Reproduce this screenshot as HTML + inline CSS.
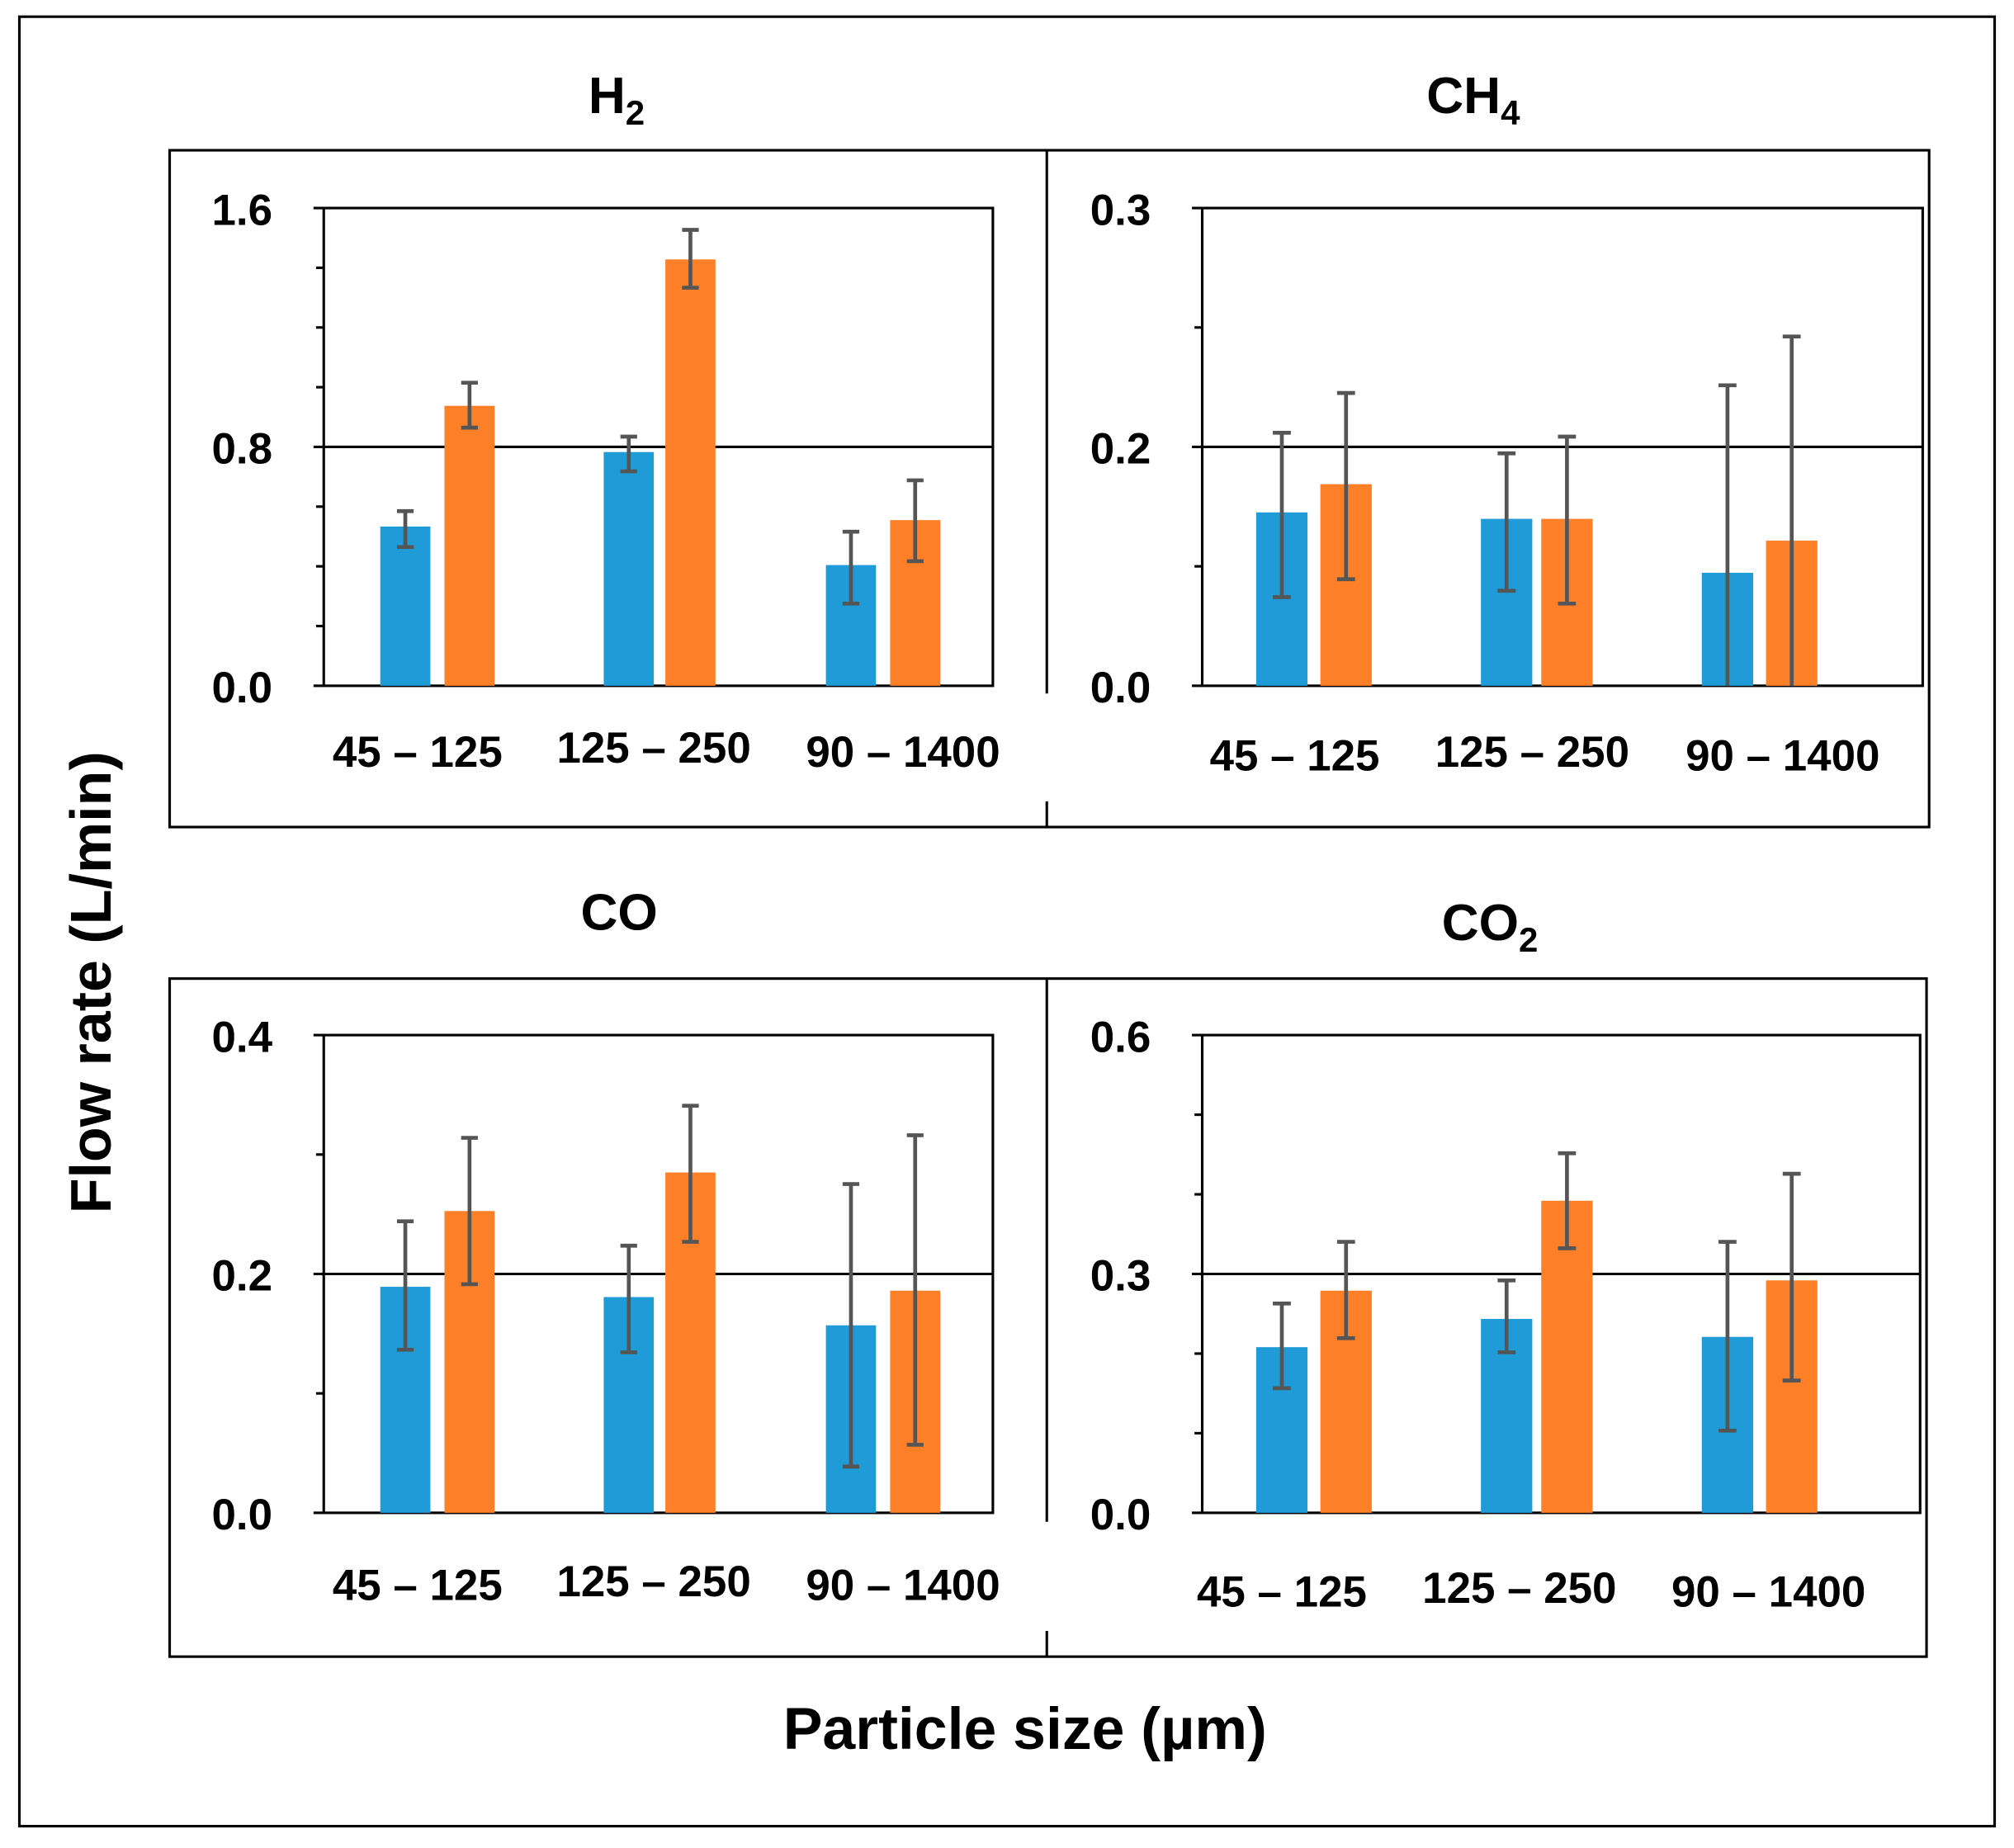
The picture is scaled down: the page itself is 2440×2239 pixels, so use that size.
<!DOCTYPE html>
<html><head><meta charset="utf-8"><style>
html,body{margin:0;padding:0;background:#fff}
svg{display:block}
text{font-family:"Liberation Sans",sans-serif;font-weight:bold;fill:#000}
</style></head><body>
<svg width="2440" height="2239" viewBox="0 0 1568 1439" xmlns="http://www.w3.org/2000/svg">
<rect x="0" y="0" width="1568" height="1439" fill="#fff"/>
<rect x="15" y="13" width="1538" height="1409" fill="none" stroke="#000" stroke-width="2"/>
<rect x="132" y="117" width="1370" height="527" fill="none" stroke="#000" stroke-width="2"/>
<rect x="132" y="762" width="1368" height="528" fill="none" stroke="#000" stroke-width="2"/>
<line x1="815" y1="117" x2="815" y2="644" stroke="#000" stroke-width="2"/>
<line x1="815" y1="762" x2="815" y2="1290" stroke="#000" stroke-width="2"/>
<g stroke="#fff" stroke-width="4"><line x1="815" y1="540" x2="815" y2="624"/><line x1="815" y1="1185" x2="815" y2="1270"/></g>

<text x="480" y="88" font-size="40" text-anchor="middle">H<tspan font-size="27" dy="9">2</tspan></text>
<text x="1147" y="88" font-size="40" text-anchor="middle">CH<tspan font-size="27" dy="9">4</tspan></text>
<text x="482" y="724" font-size="40" text-anchor="middle">CO</text>
<text x="1160" y="732" font-size="40" text-anchor="middle">CO<tspan font-size="27" dy="9">2</tspan></text>
<text x="798" y="1362" font-size="46" text-anchor="middle">Particle size (µm)</text>
<text transform="translate(86,765) rotate(-90)" font-size="45" text-anchor="middle">Flow rate (L/min)</text>

<g font-size="34">
<!-- TL -->
<rect x="252" y="162" width="521" height="372" fill="none" stroke="#000" stroke-width="2"/>
<line x1="252" y1="348" x2="773" y2="348" stroke="#000" stroke-width="2"/>
<g stroke="#000" stroke-width="2"><line x1="244" y1="162" x2="252" y2="162"/><line x1="244" y1="348" x2="252" y2="348"/><line x1="244" y1="534" x2="252" y2="534"/>
<line x1="246" y1="208.5" x2="252" y2="208.5"/><line x1="246" y1="255" x2="252" y2="255"/><line x1="246" y1="301.5" x2="252" y2="301.5"/><line x1="246" y1="394.5" x2="252" y2="394.5"/><line x1="246" y1="441" x2="252" y2="441"/><line x1="246" y1="487.5" x2="252" y2="487.5"/></g>
<text x="212" y="175" text-anchor="end">1.6</text><text x="212" y="361" text-anchor="end">0.8</text><text x="212" y="547" text-anchor="end">0.0</text>
<text x="325" y="597" text-anchor="middle">45 – 125</text><text x="509" y="594" text-anchor="middle">125 – 250</text><text x="703" y="597" text-anchor="middle">90 – 1400</text>
<g fill="#1f9bd7"><rect x="296" y="410" width="39" height="124"/><rect x="470" y="352" width="39" height="182"/><rect x="643" y="440" width="39" height="94"/></g>
<g fill="#fd7f28"><rect x="346" y="316" width="39" height="218"/><rect x="518" y="202" width="39" height="332"/><rect x="693" y="405" width="39" height="129"/></g>
<g stroke="#555" stroke-width="3" fill="none">
<path d="M315.5 398V426M309 398H322M309 426H322"/><path d="M365.5 298V333M359 298H372M359 333H372"/>
<path d="M489.5 340V367M483 340H496M483 367H496"/><path d="M537.5 179V224M531 179H544M531 224H544"/>
<path d="M662.5 414V470M656 414H669M656 470H669"/><path d="M712.5 374V437M706 374H719M706 437H719"/></g>

<!-- TR -->
<rect x="936" y="162" width="561" height="372" fill="none" stroke="#000" stroke-width="2"/>
<line x1="936" y1="348" x2="1497" y2="348" stroke="#000" stroke-width="2"/>
<g stroke="#000" stroke-width="2"><line x1="928" y1="162" x2="936" y2="162"/><line x1="928" y1="348" x2="936" y2="348"/><line x1="928" y1="534" x2="936" y2="534"/>
<line x1="930" y1="255" x2="936" y2="255"/><line x1="930" y1="441" x2="936" y2="441"/></g>
<text x="896" y="175" text-anchor="end">0.3</text><text x="896" y="361" text-anchor="end">0.2</text><text x="896" y="547" text-anchor="end">0.0</text>
<text x="1008" y="600" text-anchor="middle">45 – 125</text><text x="1193" y="597" text-anchor="middle">125 – 250</text><text x="1388" y="600" text-anchor="middle">90 – 1400</text>
<g fill="#1f9bd7"><rect x="978" y="399" width="40" height="135"/><rect x="1153" y="404" width="40" height="130"/><rect x="1325" y="446" width="40" height="88"/></g>
<g fill="#fd7f28"><rect x="1028" y="377" width="40" height="157"/><rect x="1200" y="404" width="40" height="130"/><rect x="1375" y="421" width="40" height="113"/></g>
<g stroke="#555" stroke-width="3" fill="none">
<path d="M998 337V465M991 337H1005M991 465H1005"/><path d="M1048 306V451M1041 306H1055M1041 451H1055"/>
<path d="M1173 353V460M1166 353H1180M1166 460H1180"/><path d="M1220 340V470M1213 340H1227M1213 470H1227"/>
<path d="M1345 300V534M1338 300H1352"/><path d="M1395 262V534M1388 262H1402"/></g>

<!-- BL -->
<rect x="252" y="806" width="521" height="372" fill="none" stroke="#000" stroke-width="2"/>
<line x1="252" y1="992" x2="773" y2="992" stroke="#000" stroke-width="2"/>
<g stroke="#000" stroke-width="2"><line x1="244" y1="806" x2="252" y2="806"/><line x1="244" y1="992" x2="252" y2="992"/><line x1="244" y1="1178" x2="252" y2="1178"/>
<line x1="246" y1="899" x2="252" y2="899"/><line x1="246" y1="1085" x2="252" y2="1085"/></g>
<text x="212" y="819" text-anchor="end">0.4</text><text x="212" y="1005" text-anchor="end">0.2</text><text x="212" y="1191" text-anchor="end">0.0</text>
<text x="325" y="1246" text-anchor="middle">45 – 125</text><text x="509" y="1243" text-anchor="middle">125 – 250</text><text x="703" y="1246" text-anchor="middle">90 – 1400</text>
<g fill="#1f9bd7"><rect x="296" y="1002" width="39" height="176"/><rect x="470" y="1010" width="39" height="168"/><rect x="643" y="1032" width="39" height="146"/></g>
<g fill="#fd7f28"><rect x="346" y="943" width="39" height="235"/><rect x="518" y="913" width="39" height="265"/><rect x="693" y="1005" width="39" height="173"/></g>
<g stroke="#555" stroke-width="3" fill="none">
<path d="M315.5 951V1051M309 951H322M309 1051H322"/><path d="M365.5 886V1000M359 886H372M359 1000H372"/>
<path d="M489.5 970V1053M483 970H496M483 1053H496"/><path d="M537.5 861V967M531 861H544M531 967H544"/>
<path d="M662.5 922V1142M656 922H669M656 1142H669"/><path d="M712.5 884V1125M706 884H719M706 1125H719"/></g>

<!-- BR -->
<rect x="936" y="806" width="559" height="372" fill="none" stroke="#000" stroke-width="2"/>
<line x1="936" y1="992" x2="1495" y2="992" stroke="#000" stroke-width="2"/>
<g stroke="#000" stroke-width="2"><line x1="928" y1="806" x2="936" y2="806"/><line x1="928" y1="992" x2="936" y2="992"/><line x1="928" y1="1178" x2="936" y2="1178"/>
<line x1="930" y1="868" x2="936" y2="868"/><line x1="930" y1="930" x2="936" y2="930"/><line x1="930" y1="1054" x2="936" y2="1054"/><line x1="930" y1="1116" x2="936" y2="1116"/></g>
<text x="896" y="819" text-anchor="end">0.6</text><text x="896" y="1005" text-anchor="end">0.3</text><text x="896" y="1191" text-anchor="end">0.0</text>
<text x="998" y="1251" text-anchor="middle">45 – 125</text><text x="1183" y="1248" text-anchor="middle">125 – 250</text><text x="1377" y="1251" text-anchor="middle">90 – 1400</text>
<g fill="#1f9bd7"><rect x="978" y="1049" width="40" height="129"/><rect x="1153" y="1027" width="40" height="151"/><rect x="1325" y="1041" width="40" height="137"/></g>
<g fill="#fd7f28"><rect x="1028" y="1005" width="40" height="173"/><rect x="1200" y="935" width="40" height="243"/><rect x="1375" y="997" width="40" height="181"/></g>
<g stroke="#555" stroke-width="3" fill="none">
<path d="M998 1015V1081M991 1015H1005M991 1081H1005"/><path d="M1048 967V1042M1041 967H1055M1041 1042H1055"/>
<path d="M1173 997V1053M1166 997H1180M1166 1053H1180"/><path d="M1220 898V972M1213 898H1227M1213 972H1227"/>
<path d="M1345 967V1114M1338 967H1352M1338 1114H1352"/><path d="M1395 914V1075M1388 914H1402M1388 1075H1402"/></g>
</g>
</svg>
</body></html>
